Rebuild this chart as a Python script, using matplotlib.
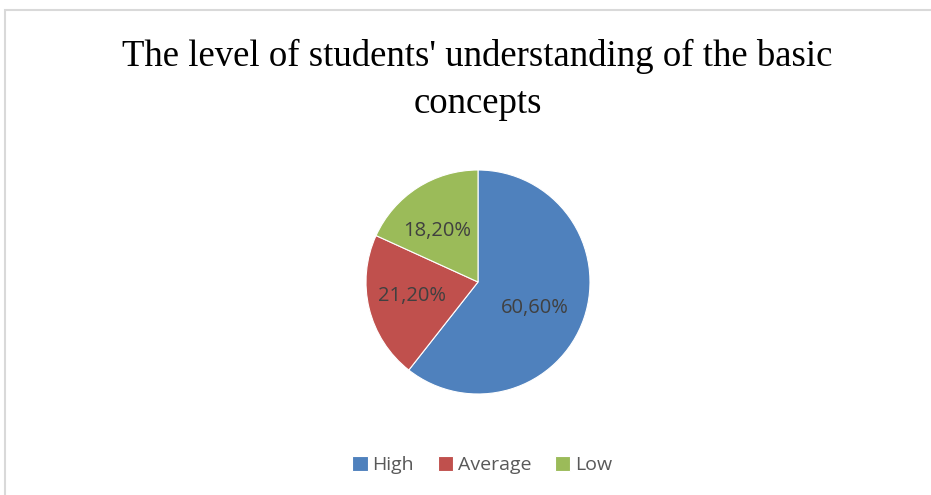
import numpy as np
import matplotlib.pyplot as plt
from matplotlib.patches import Rectangle

categories = ['High', 'Average', 'Low']
shares = [60.6, 21.2, 18.2]
pct_labels = ['60,60%', '21,20%', '18,20%']
colors = ['#4F81BD', '#C0504D', '#9BBB59']

fig = plt.figure(figsize=(9.31, 4.95), dpi=100)

# chart frame
fig.patches.append(Rectangle((5 / 931, -0.01), 1.0, 1 - 10 / 495 + 0.01,
                             transform=fig.transFigure, fill=False,
                             edgecolor='#d9d9d9', linewidth=1.5))

fig.text(0.513, 0.885, "The level of students' understanding of the basic",
         ha='center', va='center', fontsize=26.5, family='Liberation Serif',
         color='#000000')
fig.text(0.513, 0.79, "concepts", ha='center', va='center', fontsize=26.5,
         family='Liberation Serif', color='#000000')

r = 112
ax = fig.add_axes([(478 - r) / 931, 1 - (282 + r) / 495, 2 * r / 931, 2 * r / 495])
wedges, _ = ax.pie(shares, colors=colors, startangle=90, counterclock=False,
                   wedgeprops=dict(linewidth=0.8, edgecolor='white'))
ax.set_aspect('auto')
ax.set_xlim(-1, 1)
ax.set_ylim(-1, 1)

# label offsets (radius fraction, angle nudge)
for w, lab, dist, nudge in zip(wedges, pct_labels, [0.56, 0.6, 0.58], [-5, -2, 6]):
    mid = np.deg2rad((w.theta1 + w.theta2) / 2 + nudge)
    ax.text(dist * np.cos(mid), dist * np.sin(mid), lab, ha='center',
            va='center', fontsize=14.5, color='#404040', family='Open Sans')

leg = fig.legend(wedges, categories, loc='center', bbox_to_anchor=(0.518, 0.06),
                 ncol=3, frameon=False, handlelength=0.8, handleheight=0.8,
                 handletextpad=0.25, columnspacing=1.2,
                 prop=dict(family='Open Sans', size=14))
for t in leg.get_texts():
    t.set_color('#595959')

fig.savefig('out.png', dpi=100)
